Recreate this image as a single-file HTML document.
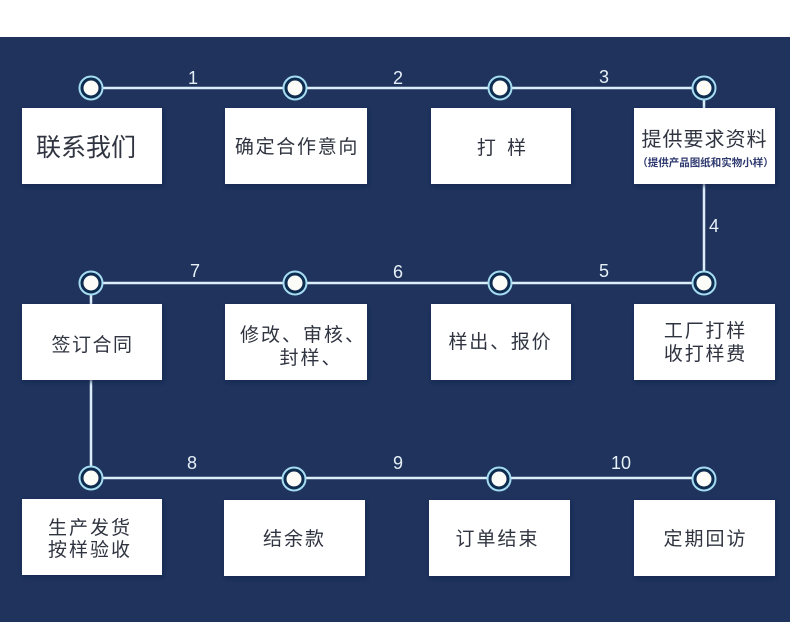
<!DOCTYPE html>
<html>
<head>
<meta charset="utf-8">
<style>
html,body{margin:0;padding:0;background:#fff}
body{width:790px;height:622px;overflow:hidden}
svg{display:block}
text{font-family:"Liberation Sans","Noto Sans CJK SC",sans-serif;text-anchor:middle}
.n{fill:#e6f0f7;font-size:18px}
.t{fill:#2f3440;font-size:19px}
.b{fill:#fff;filter:url(#s)}
.l{stroke:#dbeefa;stroke-width:2.5;fill:none}
.c1{fill:#0e2c4f;stroke:#a5dcf2;stroke-width:2}
.c2{fill:#fbfcf8}
</style>
</head>
<body>
<svg width="790" height="622" viewBox="0 0 790 622" xmlns="http://www.w3.org/2000/svg">
<defs>
<filter id="s" x="-10%" y="-10%" width="120%" height="125%"><feDropShadow dx="1" dy="2" stdDeviation="2" flood-color="#10214a" flood-opacity=".7"/></filter>
</defs>
<rect x="0" y="37" width="790" height="585" fill="#1f335d"/>

<path class="l" d="M91 88H704V283H91V478H704"/>

<rect class="b" x="22" y="108" width="140" height="76"/>
<rect class="b" x="225" y="108" width="142" height="76"/>
<rect class="b" x="431" y="108" width="140" height="76"/>
<rect class="b" x="634" y="108" width="141" height="76"/>
<rect class="b" x="22" y="304" width="140" height="76"/>
<rect class="b" x="225" y="304" width="142" height="76"/>
<rect class="b" x="431" y="304" width="140" height="76"/>
<rect class="b" x="634" y="304" width="141" height="76"/>
<rect class="b" x="22" y="499" width="140" height="76"/>
<rect class="b" x="224" y="500" width="141" height="76"/>
<rect class="b" x="429" y="500" width="141" height="76"/>
<rect class="b" x="634" y="500" width="141" height="76"/>

<g>
<g><circle class="c1" cx="91" cy="88" r="11.5"/><circle class="c2" cx="91" cy="88" r="7.5"/></g>
<g><circle class="c1" cx="295" cy="88" r="11.5"/><circle class="c2" cx="295" cy="88" r="7.5"/></g>
<g><circle class="c1" cx="500" cy="88" r="11.5"/><circle class="c2" cx="500" cy="88" r="7.5"/></g>
<g><circle class="c1" cx="704" cy="88" r="11.5"/><circle class="c2" cx="704" cy="88" r="7.5"/></g>
<g><circle class="c1" cx="91" cy="283" r="11.5"/><circle class="c2" cx="91" cy="283" r="7.5"/></g>
<g><circle class="c1" cx="295" cy="283" r="11.5"/><circle class="c2" cx="295" cy="283" r="7.5"/></g>
<g><circle class="c1" cx="500" cy="283" r="11.5"/><circle class="c2" cx="500" cy="283" r="7.5"/></g>
<g><circle class="c1" cx="704" cy="283" r="11.5"/><circle class="c2" cx="704" cy="283" r="7.5"/></g>
<g><circle class="c1" cx="91" cy="478" r="11.5"/><circle class="c2" cx="91" cy="478" r="7.5"/></g>
<g><circle class="c1" cx="294" cy="479" r="11.5"/><circle class="c2" cx="294" cy="479" r="7.5"/></g>
<g><circle class="c1" cx="499" cy="479" r="11.5"/><circle class="c2" cx="499" cy="479" r="7.5"/></g>
<g><circle class="c1" cx="704" cy="479" r="11.5"/><circle class="c2" cx="704" cy="479" r="7.5"/></g>
</g>

<text class="n" x="193" y="84">1</text>
<text class="n" x="398" y="84">2</text>
<text class="n" x="604" y="83">3</text>
<text class="n" x="714" y="232">4</text>
<text class="n" x="604" y="277">5</text>
<text class="n" x="398" y="278">6</text>
<text class="n" x="195" y="277">7</text>
<text class="n" x="192" y="469">8</text>
<text class="n" x="398" y="469">9</text>
<text class="n" x="621" y="469">10</text>

<text class="t" x="86" y="156" style="font-size:25px">联系我们</text>
<text class="t" x="297" y="153" style="font-size:19px;letter-spacing:1.7px">确定合作意向</text>
<text class="t" x="503" y="154" style="font-size:19px;letter-spacing:3px">打 样</text>
<text class="t" x="704.5" y="146" style="font-size:20px;letter-spacing:1px">提供要求资料</text>
<text x="705.5" y="166" style="font-size:10.5px;font-weight:bold;fill:#2f3a70">（提供产品图纸和实物小样）</text>

<text class="t" x="92.5" y="351" style="letter-spacing:1.5px">签订合同</text>
<text class="t" x="303" y="341" style="letter-spacing:2px">修改、审核、</text>
<text class="t" x="311" y="364" style="letter-spacing:2px">封样、</text>
<text class="t" x="500.5" y="348" style="letter-spacing:1.8px">样出、报价</text>
<text class="t" x="705.5" y="337" style="letter-spacing:1.8px">工厂打样</text>
<text class="t" x="705.5" y="360" style="letter-spacing:1.8px">收打样费</text>

<text class="t" x="90" y="534" style="letter-spacing:2px">生产发货</text>
<text class="t" x="90" y="556" style="letter-spacing:2px">按样验收</text>
<text class="t" x="294.5" y="545" style="letter-spacing:2px">结余款</text>
<text class="t" x="497.5" y="545" style="letter-spacing:2px">订单结束</text>
<text class="t" x="705.5" y="545" style="letter-spacing:2px">定期回访</text>
</svg>
</body>
</html>
